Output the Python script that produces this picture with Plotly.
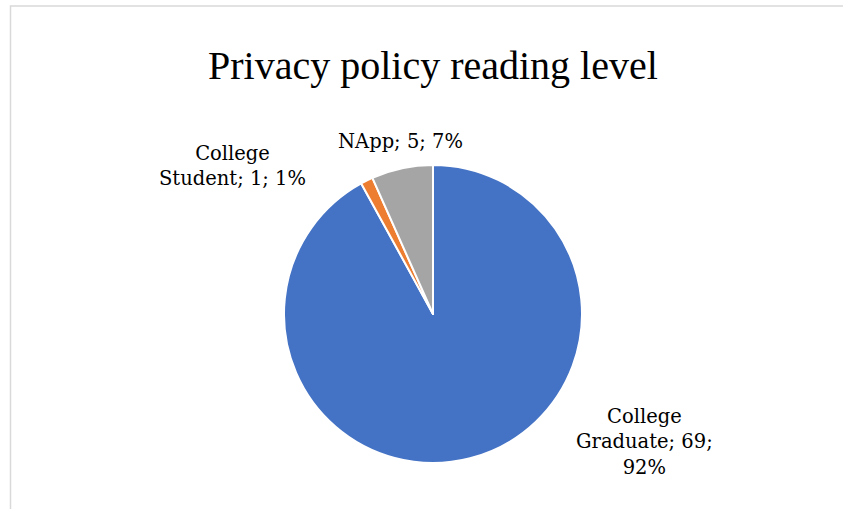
import plotly.graph_objects as go

categories = ["College Graduate", "College Student", "NApp"]
values = [69, 1, 5]
colors = ["#4472C4", "#ED7D31", "#A5A5A5"]
title = "Privacy policy reading level"

W, H = 843, 509
cx, cy, r = 433, 314, 149

total = sum(values)
pcts = [round(v / total * 100) for v in values]

fig = go.Figure()
fig.add_trace(go.Pie(
    labels=categories, values=values, sort=False, direction="clockwise", rotation=0,
    marker=dict(colors=colors, line=dict(color="white", width=2)),
    textinfo="none", hoverinfo="label+value+percent", showlegend=False,
    domain=dict(x=[(cx - r) / W, (cx + r) / W], y=[1 - (cy + r) / H, 1 - (cy - r) / H]),
))

label_font = dict(family="DejaVu Serif", size=19.5, color="#000000")
texts = {
    0: (f"College<br>Graduate; {values[0]};<br>{pcts[0]}%", 644, 442),
    1: (f"College<br>Student; {values[1]}; {pcts[1]}%", 232, 166),
    2: (f"NApp; {values[2]}; {pcts[2]}%", 400, 142),
}
for i, (t, x, y) in texts.items():
    fig.add_annotation(text=t, x=x / W, y=1 - y / H, xref="paper", yref="paper",
                       showarrow=False, font=label_font, align="center",
                       xanchor="center", yanchor="middle")

fig.add_annotation(text=title, x=433 / W, y=1 - 66 / H, xref="paper", yref="paper",
                   showarrow=False, xanchor="center", yanchor="middle",
                   font=dict(family="Liberation Serif", size=40, color="#000000"))

fig.add_shape(type="rect", xref="paper", yref="paper",
              x0=10.5 / W, y0=-0.05, x1=1.05, y1=1 - 6 / H,
              line=dict(color="#d9d9d9", width=1.5), fillcolor="rgba(0,0,0,0)")

fig.update_layout(width=W, height=H, margin=dict(l=0, r=0, t=0, b=0),
                  paper_bgcolor="white", plot_bgcolor="white")
fig.write_html("out.html", config={"displayModeBar": False},
               post_script="document.body.style.margin='0';")
